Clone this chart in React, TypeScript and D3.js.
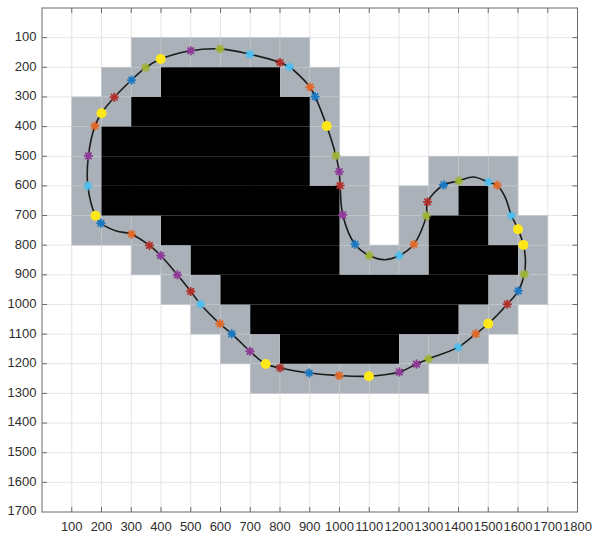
import React, { useRef, useEffect } from 'react';
import * as d3 from 'd3';

// tick labels
const xTicks = [100, 200, 300, 400, 500, 600, 700, 800, 900, 1000, 1100, 1200, 1300, 1400, 1500, 1600, 1700, 1800];
const yTicks = [100, 200, 300, 400, 500, 600, 700, 800, 900, 1000, 1100, 1200, 1300, 1400, 1500, 1600, 1700];

// occupancy cells, as runs: [row top, x from, x to]
const grayRuns: [number, number, number][] = [
  [100, 300, 900],
  [200, 200, 400], [200, 800, 1000],
  [300, 100, 300], [300, 900, 1000],
  [400, 100, 200], [400, 900, 1000],
  [500, 100, 200], [500, 900, 1100], [500, 1300, 1600],
  [600, 100, 200], [600, 1000, 1100], [600, 1200, 1400], [600, 1500, 1600],
  [700, 100, 400], [700, 1000, 1100], [700, 1200, 1300], [700, 1500, 1700],
  [800, 300, 500], [800, 1000, 1300], [800, 1600, 1700],
  [900, 400, 600], [900, 1500, 1700],
  [1000, 500, 700], [1000, 1400, 1600],
  [1100, 600, 800], [1100, 1200, 1500],
  [1200, 700, 1300],
];
const blackRuns: [number, number, number][] = [
  [200, 400, 800],
  [300, 300, 900],
  [400, 200, 900],
  [500, 200, 900],
  [600, 200, 1000], [600, 1400, 1500],
  [700, 400, 1000], [700, 1300, 1500],
  [800, 500, 1000], [800, 1300, 1600],
  [900, 600, 1500],
  [1000, 700, 1400],
  [1100, 800, 1200],
];

// contour points in order; tag = marker kind, '' = curve only
const contour: [number, number, string][] = [
  [399, 172, 'yellow'], [500, 144, 'purple'], [598, 138, 'olive'], [699, 156, 'cyan'],
  [800, 184, 'red'], [832, 199, 'cyan'], [901, 267, 'orange'], [918, 299, 'blue'],
  [957, 398, 'yellow'], [988, 498, 'olive'], [999, 552, 'purple'], [1002, 599, 'red'],
  [1011, 698, 'purple'], [1052, 797, 'blue'], [1100, 835, 'olive'], [1151, 849, ''],
  [1201, 835, 'cyan'], [1250, 797, 'orange'], [1292, 701, 'olive'], [1296, 654, 'red'],
  [1350, 597, 'blue'], [1401, 583, 'olive'], [1450, 570, ''], [1500, 587, 'cyan'],
  [1530, 598, 'orange'], [1556, 636, ''], [1578, 700, 'cyan'], [1600, 746, 'yellow'],
  [1618, 799, 'yellow'], [1625, 850, ''], [1621, 898, 'olive'], [1601, 954, 'blue'],
  [1564, 999, 'red'], [1500, 1065, 'yellow'], [1458, 1099, 'orange'], [1399, 1144, 'cyan'],
  [1299, 1184, 'olive'], [1259, 1201, 'purple'], [1201, 1228, 'purple'], [1099, 1242, 'yellow'],
  [999, 1240, 'orange'], [898, 1231, 'blue'], [800, 1214, 'red'], [752, 1201, 'yellow'],
  [699, 1158, 'purple'], [638, 1099, 'blue'], [598, 1065, 'orange'], [533, 999, 'cyan'],
  [500, 956, 'red'], [455, 900, 'purple'], [399, 835, 'purple'], [361, 801, 'red'],
  [301, 763, 'orange'], [250, 752, ''], [198, 726, 'blue'], [180, 701, 'yellow'],
  [154, 600, 'cyan'], [156, 499, 'purple'], [178, 398, 'orange'], [200, 355, 'yellow'],
  [243, 301, 'red'], [301, 243, 'blue'], [348, 201, 'olive'],
];

const markerColors: Record<string, string> = {
  blue: '#1a78c2',
  orange: '#e0692a',
  purple: '#8e3a96',
  olive: '#9db232',
  cyan: '#4dbeee',
  red: '#b0302c',
  yellow: '#ffe81a',
};

export default function App() {
  const svgRef = useRef<SVGSVGElement>(null);

  useEffect(() => {
    const svg = d3.select(svgRef.current);
    svg.selectAll('*').remove();

    const x = d3.scaleLinear().domain([0, 1800]).range([42, 577.5]);
    const y = d3.scaleLinear().domain([0, 1700]).range([8, 512]);
    const font = '"Liberation Sans", Arial, sans-serif';

    // grid
    const grid = svg.append('g').attr('stroke', '#dedede').attr('stroke-width', 0.8);
    xTicks.slice(0, -1).forEach(v => {
      grid.append('line').attr('x1', x(v)).attr('x2', x(v)).attr('y1', y(0)).attr('y2', y(1700));
    });
    yTicks.slice(0, -1).forEach(v => {
      grid.append('line').attr('x1', x(0)).attr('x2', x(1800)).attr('y1', y(v)).attr('y2', y(v));
    });

    // gray cells
    grayRuns.forEach(([row, a, b]) => {
      d3.range(a, b, 100).forEach(c => {
        svg.append('rect')
          .attr('x', x(c)).attr('y', y(row))
          .attr('width', x(c + 100) - x(c)).attr('height', y(row + 100) - y(row))
          .attr('fill', '#aab1b8')
          .attr('stroke', '#c3c8cd')
          .attr('stroke-width', 0.6);
      });
    });
    // black cells
    blackRuns.forEach(([row, a, b]) => {
      svg.append('rect')
        .attr('x', x(a)).attr('y', y(row))
        .attr('width', x(b) - x(a)).attr('height', y(row + 100) - y(row))
        .attr('fill', '#000');
    });

    // contour
    const line = d3.line<[number, number, string]>()
      .x(d => x(d[0]))
      .y(d => y(d[1]))
      .curve(d3.curveCatmullRomClosed.alpha(0.5));
    svg.append('path')
      .datum(contour)
      .attr('fill', 'none')
      .attr('stroke', '#1c1c1c')
      .attr('stroke-width', 1.6)
      .attr('d', line);

    // markers
    const r = 3.8;
    const d2 = r * Math.SQRT1_2;
    contour.filter(d => d[2] !== '').forEach(([px, py, k]) => {
      const cx = x(px), cy = y(py);
      if (k === 'yellow') {
        svg.append('circle')
          .attr('cx', cx).attr('cy', cy).attr('r', 5)
          .attr('fill', markerColors.yellow);
      } else {
        svg.append('path')
          .attr('d', `M${cx - r},${cy}L${cx + r},${cy}M${cx},${cy - r}L${cx},${cy + r}` +
            `M${cx - d2},${cy - d2}L${cx + d2},${cy + d2}M${cx - d2},${cy + d2}L${cx + d2},${cy - d2}`)
          .attr('stroke', markerColors[k])
          .attr('stroke-width', 1.8)
          .attr('stroke-linecap', 'round');
      }
    });

    // axes box and inward ticks
    const axis = svg.append('g').attr('stroke', '#6b6b6b').attr('stroke-width', 1);
    axis.append('rect')
      .attr('x', x(0)).attr('y', y(0))
      .attr('width', x(1800) - x(0)).attr('height', y(1700) - y(0))
      .attr('fill', 'none');
    const tl = 5;
    xTicks.slice(0, -1).forEach(v => {
      axis.append('line').attr('x1', x(v)).attr('x2', x(v)).attr('y1', y(1700)).attr('y2', y(1700) - tl);
      axis.append('line').attr('x1', x(v)).attr('x2', x(v)).attr('y1', y(0)).attr('y2', y(0) + tl);
    });
    yTicks.slice(0, -1).forEach(v => {
      axis.append('line').attr('x1', x(0)).attr('x2', x(0) + tl).attr('y1', y(v)).attr('y2', y(v));
      axis.append('line').attr('x1', x(1800)).attr('x2', x(1800) - tl).attr('y1', y(v)).attr('y2', y(v));
    });

    // tick labels
    xTicks.forEach(v => {
      svg.append('text')
        .attr('x', x(v)).attr('y', 527.5)
        .attr('text-anchor', 'middle')
        .attr('dominant-baseline', 'middle')
        .attr('fill', '#2e2e2e')
        .style('font-family', font)
        .style('font-size', '13px')
        .text(v);
    });
    yTicks.forEach(v => {
      svg.append('text')
        .attr('x', 36.5).attr('y', y(v))
        .attr('text-anchor', 'end')
        .attr('dominant-baseline', 'middle')
        .attr('fill', '#2e2e2e')
        .style('font-family', font)
        .style('font-size', '13px')
        .text(v);
    });
  }, []);

  return (
    <svg
      ref={svgRef}
      width={592}
      height={538}
      style={{ position: 'absolute', left: 0, top: 0, background: 'white' }}
    />
  );
}
